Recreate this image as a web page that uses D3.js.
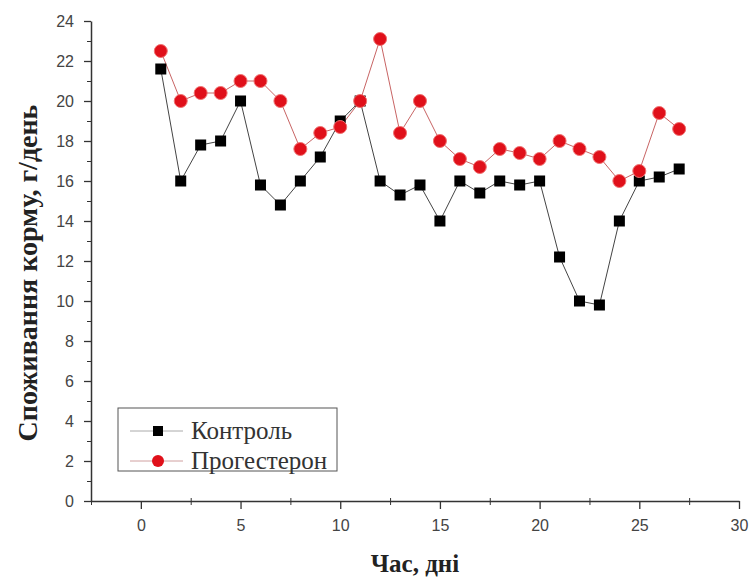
<!DOCTYPE html>
<html>
<head>
<meta charset="utf-8">
<script src="https://cdn.jsdelivr.net/npm/d3@7"></script>
<style>
  body { margin: 0; background: #fff; }
  .tick text { font-family: Arial, "Liberation Sans", sans-serif; font-size: 16px; fill: #444; }
</style>
</head>
<body>
<svg id="chart"></svg>
<script>
// days and food consumption, g/day
let days = d3.range(1, 28);
let control = [21.6, 16.0, 17.8, 18.0, 20.0, 15.8, 14.8, 16.0, 17.2, 19.0, 20.0, 16.0, 15.3, 15.8,
  14.0, 16.0, 15.4, 16.0, 15.8, 16.0, 12.2, 10.0, 9.8, 14.0, 16.0, 16.2, 16.6];
let progesterone = [22.5, 20.0, 20.4, 20.4, 21.0, 21.0, 20.0, 17.6, 18.4, 18.7, 20.0, 23.1, 18.4, 20.0,
  18.0, 17.1, 16.7, 17.6, 17.4, 17.1, 18.0, 17.6, 17.2, 16.0, 16.5, 19.4, 18.6];
let xTicks = [0, 5, 10, 15, 20, 25, 30];
let yTicks = [0, 2, 4, 6, 8, 10, 12, 14, 16, 18, 20, 22, 24];
let seriesNames = ['Контроль', 'Прогестерон'];

let width = 751, height = 577;
let svg = d3.select('#chart').attr('width', width).attr('height', height);

let x = d3.scaleLinear().domain([-2.5, 30]).range([91, 739]);
let y = d3.scaleLinear().domain([0, 24]).range([501, 21]);

// minor ticks
svg.append('g')
  .attr('transform', 'translate(0,501)')
  .call(d3.axisBottom(x).tickValues(d3.range(-2.5, 30, 5)).tickSize(4).tickFormat(''))
  .call(g => g.select('.domain').remove())
  .call(g => g.selectAll('line').attr('stroke', '#333').attr('y1', -3));
svg.append('g')
  .attr('transform', 'translate(91,0)')
  .call(d3.axisLeft(y).tickValues(d3.range(1, 24, 2)).tickSize(4).tickFormat(''))
  .call(g => g.select('.domain').remove())
  .call(g => g.selectAll('line').attr('stroke', '#333'));

// major ticks
svg.append('g')
  .attr('transform', 'translate(0,501)')
  .call(d3.axisBottom(x).tickValues(xTicks).tickSize(8).tickSizeOuter(0).tickPadding(11))
  .call(g => g.select('.domain').attr('stroke', '#333').attr('stroke-width', 1.5))
  .call(g => g.selectAll('line').attr('stroke', '#333').attr('stroke-width', 1.3));
svg.append('g')
  .attr('transform', 'translate(91,0)')
  .call(d3.axisLeft(y).tickValues(yTicks).tickSize(7).tickSizeOuter(0).tickPadding(10))
  .call(g => g.select('.domain').attr('stroke', '#333').attr('stroke-width', 1.5))
  .call(g => g.selectAll('line').attr('stroke', '#333').attr('stroke-width', 1.3));

let line = d3.line().x((d, i) => x(days[i])).y(d => y(d));

svg.append('path').datum(control)
  .attr('d', line).attr('fill', 'none').attr('stroke', '#444').attr('stroke-width', 1);
svg.append('path').datum(progesterone)
  .attr('d', line).attr('fill', 'none').attr('stroke', '#c86464').attr('stroke-width', 1);

svg.selectAll('rect.ctrl').data(control).enter().append('rect')
  .attr('class', 'ctrl')
  .attr('x', (d, i) => x(days[i]) - 5.5)
  .attr('y', d => y(d) - 5.5)
  .attr('width', 11).attr('height', 11)
  .attr('fill', '#000');

svg.selectAll('circle.prog').data(progesterone).enter().append('circle')
  .attr('class', 'prog')
  .attr('cx', (d, i) => x(days[i]))
  .attr('cy', d => y(d))
  .attr('r', 6.5)
  .attr('fill', '#e0101a')
  .attr('stroke', '#f07070').attr('stroke-width', 1);

// legend
let lg = svg.append('g');
lg.append('rect').attr('x', 118).attr('y', 408).attr('width', 219).attr('height', 63)
  .attr('fill', '#fff').attr('stroke', '#555').attr('stroke-width', 1);
seriesNames.forEach((name, i) => {
  let cy = 431 + i * 30;
  lg.append('line').attr('x1', 130).attr('x2', 183).attr('y1', cy).attr('y2', cy)
    .attr('stroke', i === 0 ? '#aaa' : '#d0a0a0').attr('stroke-width', 1);
  if (i === 0) {
    lg.append('rect').attr('x', 153).attr('y', cy - 5).attr('width', 10).attr('height', 10).attr('fill', '#000');
  } else {
    lg.append('circle').attr('cx', 158).attr('cy', cy).attr('r', 6).attr('fill', '#e0101a');
  }
  lg.append('text').attr('x', 191).attr('y', cy + 8).text(name)
    .attr('font-family', '"Liberation Serif", "Times New Roman", serif')
    .attr('font-size', 25).attr('fill', '#333');
});

// axis titles
svg.append('text')
  .attr('transform', 'translate(37,' + 273 + ') rotate(-90)')
  .attr('text-anchor', 'middle')
  .attr('font-family', '"Liberation Serif", "Times New Roman", serif')
  .attr('font-weight', 'bold').attr('font-size', 28).attr('fill', '#222')
  .text('Споживання корму, г/день');

svg.append('text')
  .attr('x', 415).attr('y', 572)
  .attr('text-anchor', 'middle')
  .attr('font-family', '"Liberation Serif", "Times New Roman", serif')
  .attr('font-weight', 'bold').attr('font-size', 25).attr('fill', '#222')
  .text('Час, дні');
</script>
</body>
</html>
